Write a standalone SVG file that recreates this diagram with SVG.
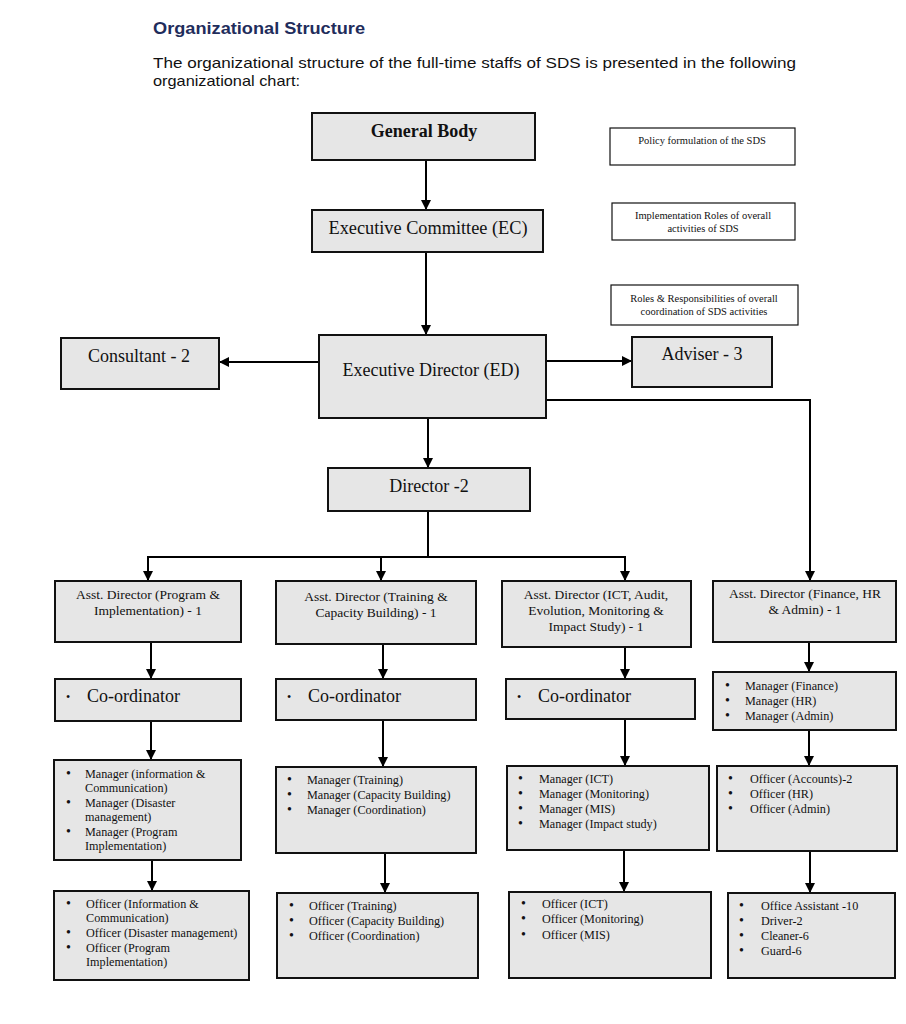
<svg xmlns="http://www.w3.org/2000/svg" width="906" height="1024" viewBox="0 0 906 1024">
<defs>
<marker id="ah" viewBox="0 0 10 10" refX="10" refY="5" markerWidth="10" markerHeight="10" markerUnits="userSpaceOnUse" orient="auto">
<path d="M0,0 L10,5 L0,10 z" fill="#000"/>
</marker>
</defs>
<style>
.box{fill:#e6e6e6;stroke:#111;stroke-width:2}
.note{fill:#fff;stroke:#111;stroke-width:1.2}
.t{font-family:"Liberation Serif","Times New Roman",serif;fill:#111}
.c{text-anchor:middle}
.big{font-size:18px}
.ad{font-size:13.5px}
.li{font-size:12.2px}
.b{font-size:14px}
.nt{font-size:10.5px}
.conn path{fill:none;stroke:#000;stroke-width:2}
.arr{marker-end:url(#ah)}
</style>
<rect width="906" height="1024" fill="#fff"/>
<text x="153" y="34" font-family="Liberation Sans,Arial,sans-serif" font-size="17" font-weight="bold" fill="#1f2d5c" textLength="212" lengthAdjust="spacingAndGlyphs">Organizational Structure</text>
<text x="153" y="68" font-family="Liberation Sans,Arial,sans-serif" font-size="15" fill="#111" textLength="643" lengthAdjust="spacingAndGlyphs">The organizational structure of the full-time staffs of SDS is presented in the following</text>
<text x="153" y="86" font-family="Liberation Sans,Arial,sans-serif" font-size="15" fill="#111" textLength="147" lengthAdjust="spacingAndGlyphs">organizational chart:</text>

<g class="conn">
<path class="arr" d="M426,160 V210"/>
<path class="arr" d="M426,252 V335"/>
<path class="arr" d="M319,362 H219"/>
<path class="arr" d="M546,361 H632"/>
<path class="arr" d="M546,400 H810 V581"/>
<path class="arr" d="M428,418 V468"/>
<path d="M428,511 V557"/>
<path d="M148,557 H625"/>
<path class="arr" d="M148,556 V581"/>
<path class="arr" d="M381,556 V581"/>
<path class="arr" d="M625,556 V581"/>
<path class="arr" d="M151,642 V679"/>
<path class="arr" d="M383,644 V679"/>
<path class="arr" d="M625,647 V679"/>
<path class="arr" d="M809,642 V672"/>
<path class="arr" d="M151,721 V760"/>
<path class="arr" d="M383,720 V767"/>
<path class="arr" d="M625,719 V766"/>
<path class="arr" d="M809,730 V766"/>
<path class="arr" d="M152,860 V891"/>
<path class="arr" d="M385,853 V893"/>
<path class="arr" d="M624,850 V892"/>
<path class="arr" d="M810,851 V893"/>
</g>

<g id="general-body"><rect class="box" x="312" y="113" width="223" height="47"/><text class="t c" x="424" y="137" font-size="18" font-weight="bold">General Body</text></g>
<g id="exec-committee"><rect class="box" x="312" y="210" width="231" height="42"/><text class="t c" x="428" y="234" font-size="18.3">Executive Committee (EC)</text></g>
<g id="note-policy"><rect class="note" x="610" y="128" width="185" height="37"/><text class="t c nt" x="702" y="144">Policy formulation of the SDS</text></g>
<g id="note-impl"><rect class="note" x="612" y="203" width="183" height="37"/><text class="t c nt" x="703" y="219">Implementation Roles of overall</text><text class="t c nt" x="703" y="232">activities of SDS</text></g>
<g id="note-roles"><rect class="note" x="611" y="285" width="187" height="40"/><text class="t c nt" x="704" y="302">Roles &amp; Responsibilities of overall</text><text class="t c nt" x="704" y="315">coordination of SDS activities</text></g>

<g id="exec-director"><rect class="box" x="319" y="335" width="227" height="83"/><text class="t c big" x="431" y="376">Executive Director (ED)</text></g>
<g id="consultant"><rect class="box" x="61" y="338" width="158" height="51"/><text class="t c big" x="139" y="362">Consultant - 2</text></g>
<g id="adviser"><rect class="box" x="632" y="337" width="140" height="50"/><text class="t c big" x="702" y="360">Adviser - 3</text></g>
<g id="director"><rect class="box" x="328" y="468" width="202" height="43"/><text class="t c big" x="429" y="492">Director -2</text></g>

<g id="ad-program"><rect class="box" x="55" y="581" width="186" height="61"/><text class="t c ad" x="148" y="599">Asst. Director (Program &amp;</text><text class="t c ad" x="148" y="615">Implementation) - 1</text></g>
<g id="ad-training"><rect class="box" x="276" y="581" width="200" height="63"/><text class="t c ad" x="376" y="601">Asst. Director (Training &amp;</text><text class="t c ad" x="376" y="617">Capacity Building) - 1</text></g>
<g id="ad-ict"><rect class="box" x="502" y="581" width="189" height="66"/><text class="t c ad" x="596" y="599">Asst. Director (ICT, Audit,</text><text class="t c ad" x="596" y="615">Evolution, Monitoring &amp;</text><text class="t c ad" x="596" y="631">Impact Study) - 1</text></g>
<g id="ad-finance"><rect class="box" x="713" y="581" width="183" height="61"/><text class="t c ad" x="805" y="598">Asst. Director (Finance, HR</text><text class="t c ad" x="805" y="614">&amp; Admin) - 1</text></g>

<g id="coord-1"><rect class="box" x="55" y="679" width="186" height="42"/><text class="t" x="66" y="701" font-size="12">•</text><text class="t big" x="87" y="702">Co-ordinator</text></g>
<g id="coord-2"><rect class="box" x="276" y="679" width="200" height="41"/><text class="t" x="287" y="701" font-size="12">•</text><text class="t big" x="308" y="702">Co-ordinator</text></g>
<g id="coord-3"><rect class="box" x="506" y="679" width="189" height="40"/><text class="t" x="517" y="701" font-size="12">•</text><text class="t big" x="538" y="702">Co-ordinator</text></g>
<g id="mgr-finance"><rect class="box" x="713" y="672" width="183" height="58"/>
<text class="t b" x="725" y="690">•</text><text class="t li" x="745" y="690">Manager (Finance)</text>
<text class="t b" x="725" y="705">•</text><text class="t li" x="745" y="705">Manager (HR)</text>
<text class="t b" x="725" y="720">•</text><text class="t li" x="745" y="720">Manager (Admin)</text></g>

<g id="mgr-program"><rect class="box" x="54" y="760" width="187" height="100"/>
<text class="t b" x="66" y="778">•</text><text class="t li" x="85" y="778">Manager (information &amp;</text>
<text class="t li" x="85" y="792">Communication)</text>
<text class="t b" x="66" y="807">•</text><text class="t li" x="85" y="807">Manager (Disaster</text>
<text class="t li" x="85" y="821">management)</text>
<text class="t b" x="66" y="836">•</text><text class="t li" x="85" y="836">Manager (Program</text>
<text class="t li" x="85" y="850">Implementation)</text></g>
<g id="mgr-training"><rect class="box" x="276" y="767" width="200" height="86"/>
<text class="t b" x="287" y="784">•</text><text class="t li" x="307" y="784">Manager (Training)</text>
<text class="t b" x="287" y="799">•</text><text class="t li" x="307" y="799">Manager (Capacity Building)</text>
<text class="t b" x="287" y="814">•</text><text class="t li" x="307" y="814">Manager (Coordination)</text></g>
<g id="mgr-ict"><rect class="box" x="507" y="766" width="202" height="84"/>
<text class="t b" x="518" y="783">•</text><text class="t li" x="539" y="783">Manager (ICT)</text>
<text class="t b" x="518" y="798">•</text><text class="t li" x="539" y="798">Manager (Monitoring)</text>
<text class="t b" x="518" y="813">•</text><text class="t li" x="539" y="813">Manager (MIS)</text>
<text class="t b" x="518" y="828">•</text><text class="t li" x="539" y="828">Manager (Impact study)</text></g>
<g id="off-finance"><rect class="box" x="717" y="766" width="180" height="85"/>
<text class="t b" x="728" y="783">•</text><text class="t li" x="750" y="783">Officer (Accounts)-2</text>
<text class="t b" x="728" y="798">•</text><text class="t li" x="750" y="798">Officer (HR)</text>
<text class="t b" x="728" y="813">•</text><text class="t li" x="750" y="813">Officer (Admin)</text></g>

<g id="off-program"><rect class="box" x="54" y="891" width="195" height="89"/>
<text class="t b" x="66" y="908">•</text><text class="t li" x="86" y="908">Officer (Information &amp;</text>
<text class="t li" x="86" y="922">Communication)</text>
<text class="t b" x="66" y="937">•</text><text class="t li" x="86" y="937">Officer (Disaster management)</text>
<text class="t b" x="66" y="952">•</text><text class="t li" x="86" y="952">Officer (Program</text>
<text class="t li" x="86" y="966">Implementation)</text></g>
<g id="off-training"><rect class="box" x="277" y="893" width="201" height="85"/>
<text class="t b" x="289" y="910">•</text><text class="t li" x="309" y="910">Officer (Training)</text>
<text class="t b" x="289" y="925">•</text><text class="t li" x="309" y="925">Officer (Capacity Building)</text>
<text class="t b" x="289" y="940">•</text><text class="t li" x="309" y="940">Officer (Coordination)</text></g>
<g id="off-ict"><rect class="box" x="509" y="892" width="202" height="86"/>
<text class="t b" x="521" y="908">•</text><text class="t li" x="542" y="908">Officer (ICT)</text>
<text class="t b" x="521" y="923">•</text><text class="t li" x="542" y="923">Officer (Monitoring)</text>
<text class="t b" x="521" y="939">•</text><text class="t li" x="542" y="939">Officer (MIS)</text></g>
<g id="off-support"><rect class="box" x="728" y="893" width="167" height="85"/>
<text class="t b" x="739" y="910">•</text><text class="t li" x="761" y="910">Office Assistant -10</text>
<text class="t b" x="739" y="925">•</text><text class="t li" x="761" y="925">Driver-2</text>
<text class="t b" x="739" y="940">•</text><text class="t li" x="761" y="940">Cleaner-6</text>
<text class="t b" x="739" y="955">•</text><text class="t li" x="761" y="955">Guard-6</text></g>
</svg>
